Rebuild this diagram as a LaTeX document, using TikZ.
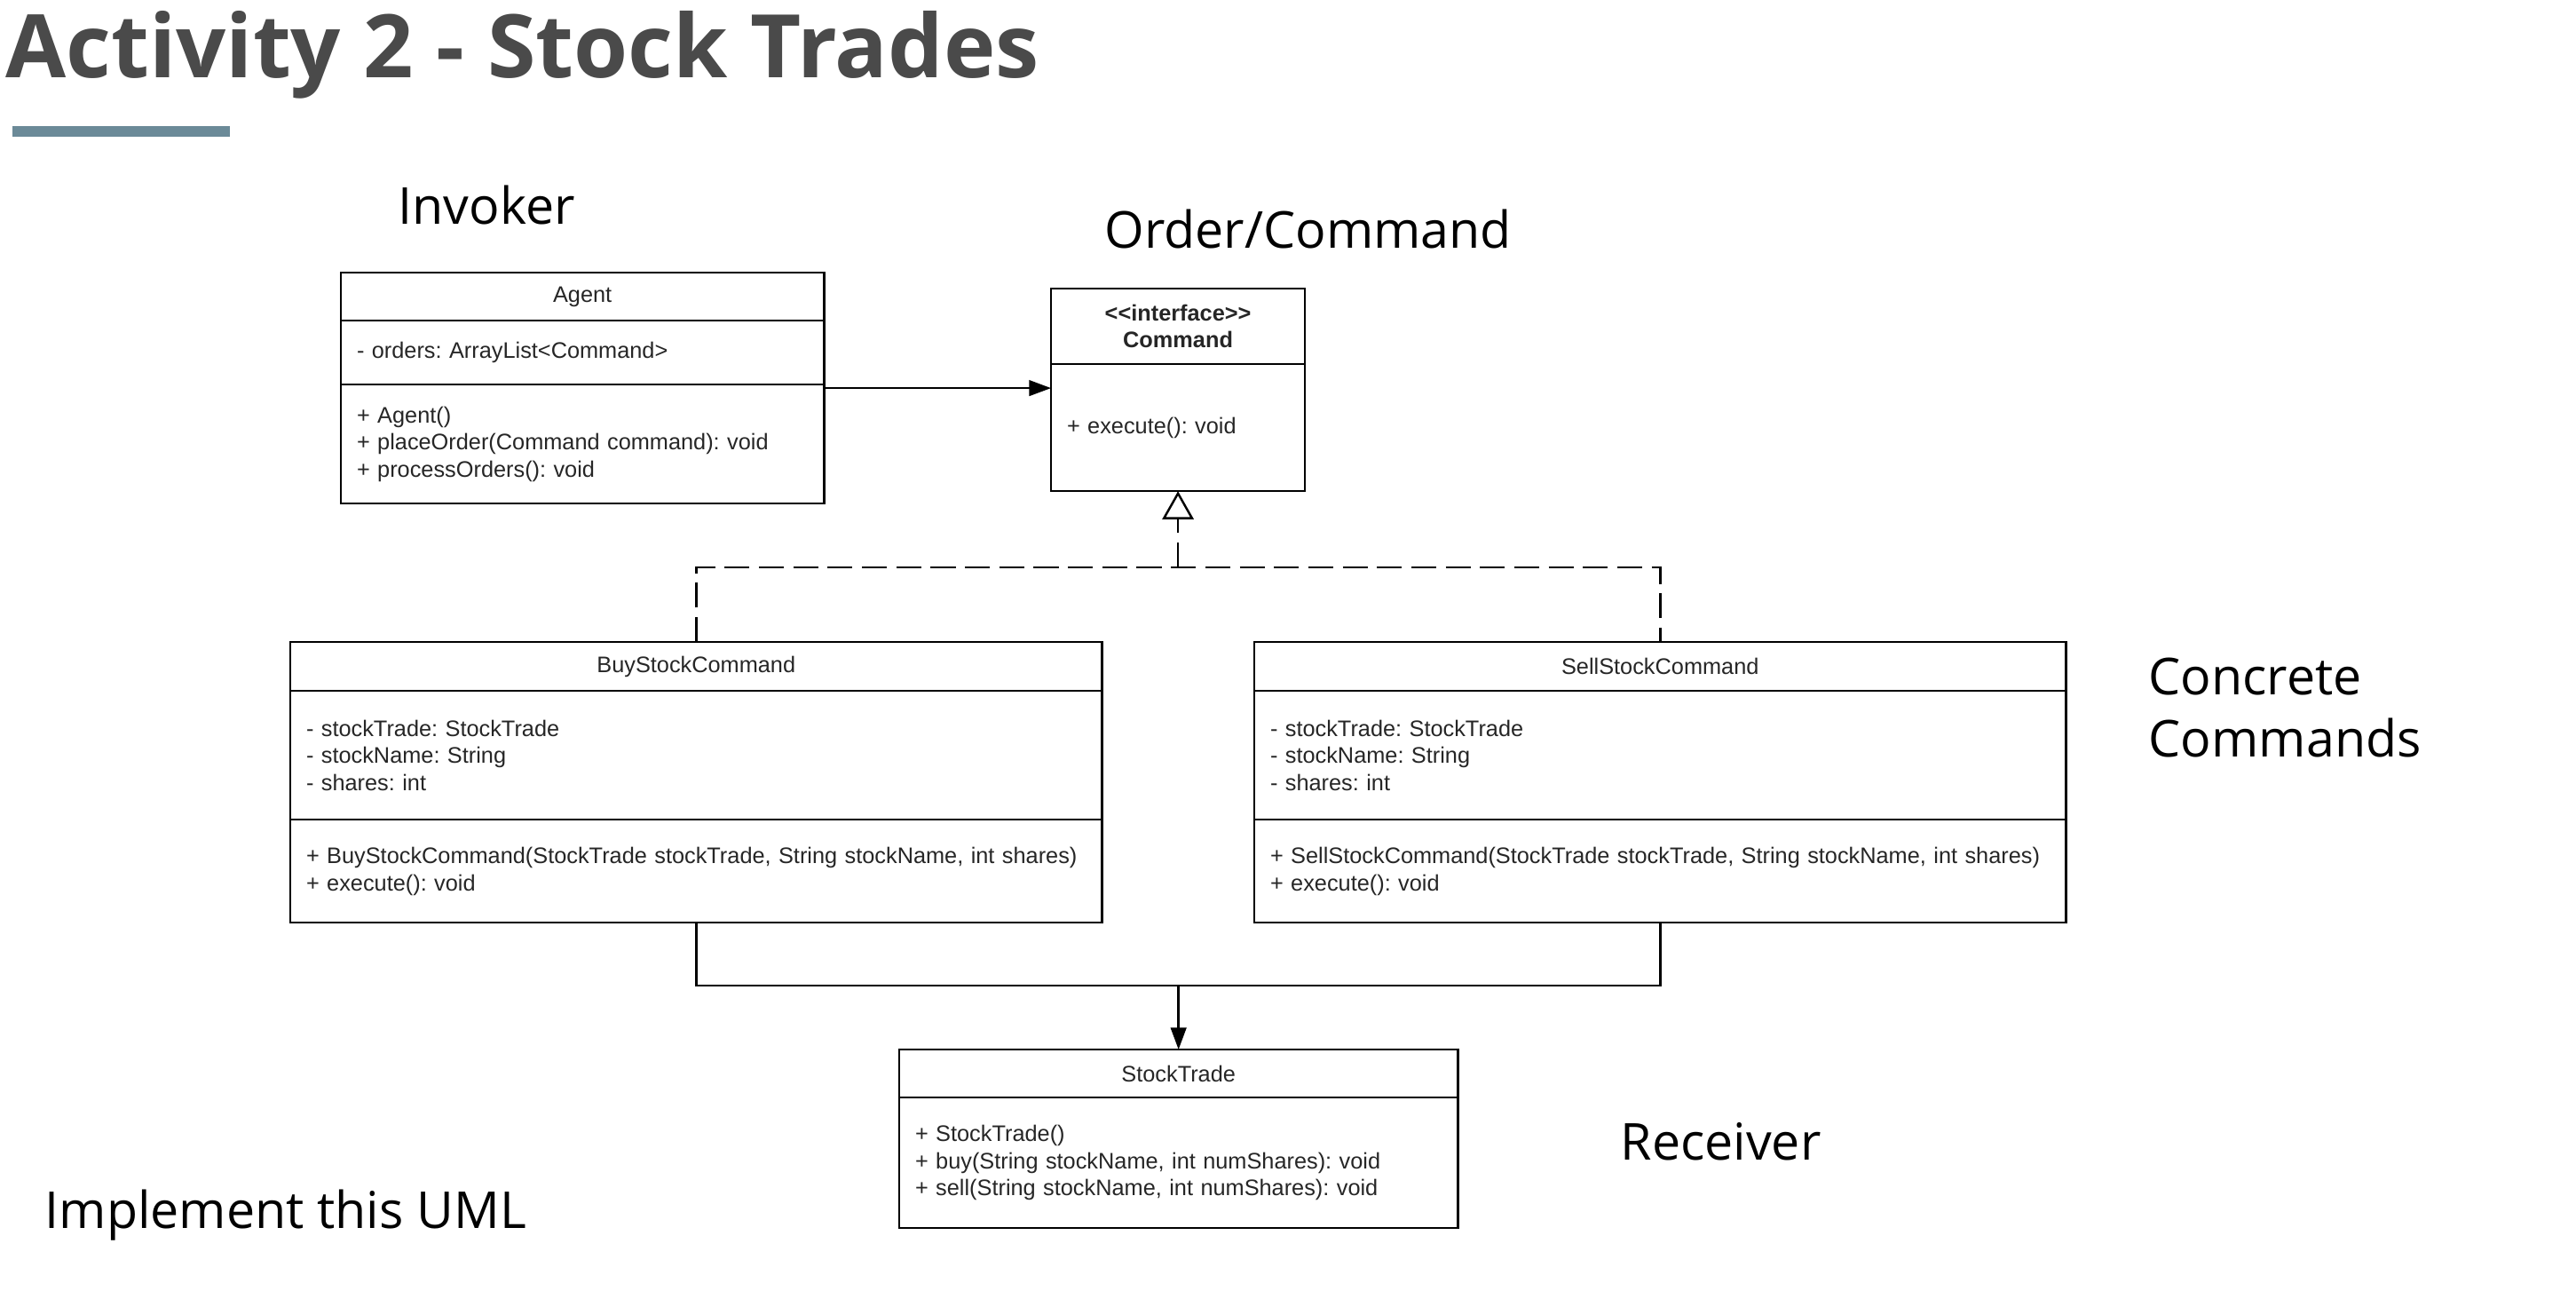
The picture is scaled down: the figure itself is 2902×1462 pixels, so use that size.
\documentclass[tikz,border=0pt]{standalone}
\usepackage{fontspec}
\usetikzlibrary{positioning,arrows.meta}
\newfontfamily\labelfont{Open Sans}
\newfontfamily\umlfont{Liberation Sans}
\definecolor{titlegray}{HTML}{4A4A4A}
\definecolor{barblue}{HTML}{6B8A98}
\frenchspacing
\tikzset{
  umlbox/.style={draw, line width=0.7pt, outer sep=0pt, inner xsep=0.18cm, inner ysep=0pt,
    font=\umlfont\fontsize{7.2}{8.7}\selectfont, text=black!85},
  umlhead/.style={umlbox, align=center},
  umlbold/.style={umlhead, font=\umlfont\bfseries\fontsize{7.2}{8.5}\selectfont},
  umlpart/.style={umlbox, align=left},
  slidelabel/.style={anchor=base west, inner sep=0pt, font=\labelfont\fontsize{16.3}{20}\selectfont},
  assoc/.style={line width=0.7pt, -{Triangle[length=7pt,width=5pt]}},
  realize/.style={line width=0.7pt, dash pattern=on 8pt off 3pt},
}
\begin{document}
\begin{tikzpicture}[x=0.01cm,y=-0.01cm]
\useasboundingbox (0,0) rectangle (2902,1462);
\node[anchor=base west, inner sep=0pt, text=titlegray,
  font=\labelfont\bfseries\fontsize{28.1}{34}\selectfont] (title) at (6,87) {Activity 2 - Stock Trades};
\fill[barblue] (14,142) rectangle (259,154);

\node[umlhead, text width=5.08cm, minimum height=0.54cm, anchor=north west] (agenthead) at (384,307) {Agent};
\node[umlpart, text width=5.08cm, minimum height=0.72cm, below=0pt of agenthead] (agentattr) {- orders: ArrayList<Command>};
\node[umlpart, text width=5.08cm, minimum height=1.34cm, below=0pt of agentattr] (agentops)
  {+ Agent()\\+ placeOrder(Command command): void\\+ processOrders(): void};

\node[umlbold, text width=2.50cm, minimum height=0.85cm, anchor=north west] (cmdhead) at (1184,325) {<<interface>>\\Command};
\node[umlpart, text width=2.50cm, minimum height=1.43cm, below=0pt of cmdhead] (cmdops) {+ execute(): void};

\node[umlhead, text width=8.78cm, minimum height=0.55cm, anchor=north west] (buyhead) at (327,723) {BuyStockCommand};
\node[umlpart, text width=8.78cm, minimum height=1.45cm, below=0pt of buyhead] (buyattr)
  {- stockTrade: StockTrade\\- stockName: String\\- shares: int};
\node[umlpart, text width=8.78cm, minimum height=1.16cm, below=0pt of buyattr] (buyops)
  {+ BuyStockCommand(StockTrade stockTrade, String stockName, int shares)\\+ execute(): void};

\node[umlhead, text width=8.78cm, minimum height=0.55cm, anchor=north west] (sellhead) at (1413,723) {SellStockCommand};
\node[umlpart, text width=8.78cm, minimum height=1.45cm, below=0pt of sellhead] (sellattr)
  {- stockTrade: StockTrade\\- stockName: String\\- shares: int};
\node[umlpart, text width=8.78cm, minimum height=1.16cm, below=0pt of sellattr] (sellops)
  {+ SellStockCommand(StockTrade stockTrade, String stockName, int shares)\\+ execute(): void};

\node[umlhead, text width=5.93cm, minimum height=0.54cm, anchor=north west] (stockhead) at (1013,1182) {StockTrade};
\node[umlpart, text width=5.93cm, minimum height=1.47cm, below=0pt of stockhead] (stockops)
  {+ StockTrade()\\+ buy(String stockName, int numShares): void\\+ sell(String stockName, int numShares): void};

\coordinate (agentout) at ([yshift=-0.04cm]agentops.north east);
\draw[assoc] (agentout) -- (agentout -| cmdops.west);

\coordinate (implbar) at ([yshift=0.84cm]buyhead.north);
\draw[realize] (buyhead.north) -- (implbar) -| (sellhead.north);
\draw[realize, -{Triangle[open,length=9pt,width=10pt]}] (implbar -| cmdops.south) -- (cmdops.south);

\coordinate (usebar) at ([yshift=-0.71cm]buyops.south);
\draw[line width=0.7pt] (buyops.south) -- (usebar) -| (sellops.south);
\draw[assoc] (usebar -| stockhead.north) -- (stockhead.north);

\node[slidelabel] (invoker) at (448,252) {Invoker};
\node[slidelabel] (ordercmd) at (1244,279) {Order/Command};
\node[slidelabel] (concrete) at (2420,782) {Concrete};
\node[slidelabel] (commands) at (2420,852) {Commands};
\node[slidelabel] (receiver) at (1825,1306) {Receiver};
\node[slidelabel] (implement) at (50,1383) {Implement this UML};
\end{tikzpicture}
\end{document}
